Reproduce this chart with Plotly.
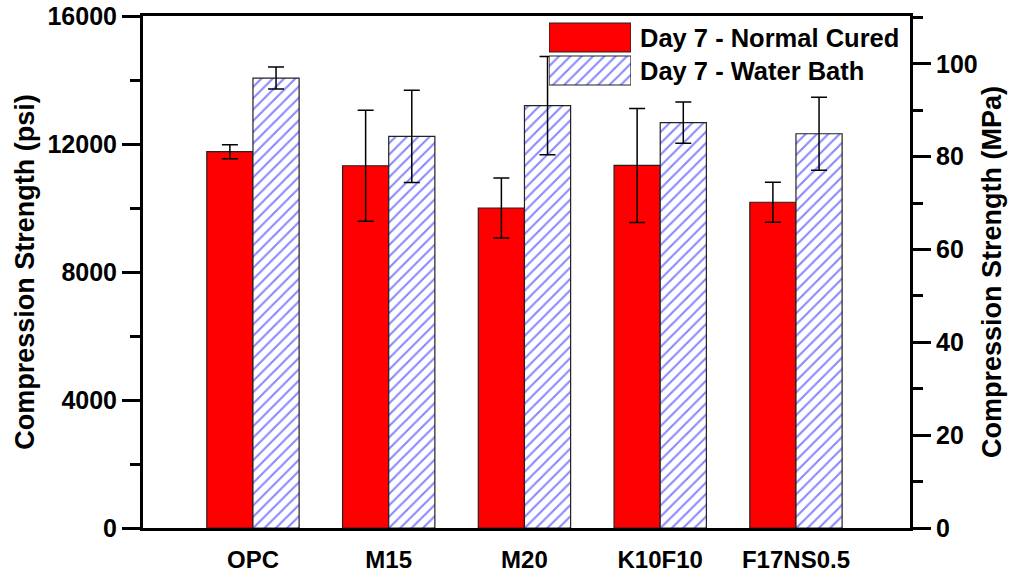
import plotly.graph_objects as go

# ---- data (psi) ----
categories = ["OPC", "M15", "M20", "K10F10", "F17NS0.5"]
normal_cured = [11760, 11320, 10000, 11330, 10180]
normal_cured_err = [220, 1735, 940, 1780, 625]
water_bath = [14060, 12240, 13200, 12670, 12320]
water_bath_err = [345, 1440, 1535, 645, 1140]

series_names = ["Day 7 - Normal Cured", "Day 7 - Water Bath"]
psi_ticks = [0, 4000, 8000, 12000, 16000]
mpa_ticks = [0, 20, 40, 60, 80, 100]
PSI_MAX = 16000
PSI_PER_MPA = 145.038

FONT = "Liberation Sans, Arial, sans-serif"
RED = "#ff0000"
BLUE = "#1010ff"
BAR_W = 0.34
HATCH = dict(shape="/", fgcolor=BLUE, bgcolor="white", size=8, solidity=0.26)

fig = go.Figure()

fig.add_trace(go.Bar(
    x=categories, y=normal_cured, name=series_names[0],
    width=BAR_W, offset=-BAR_W,
    marker=dict(color=RED, line=dict(color="#222", width=1.2)),
    error_y=dict(type="data", array=normal_cured_err, color="black", thickness=1.5, width=8),
    showlegend=False,
))
fig.add_trace(go.Bar(
    x=categories, y=water_bath, name=series_names[1],
    width=BAR_W, offset=0,
    marker=dict(color="white", line=dict(color="#222", width=1.2), pattern=HATCH),
    error_y=dict(type="data", array=water_bath_err, color="black", thickness=1.5, width=8),
    showlegend=False,
))

# invisible trace to activate secondary axis
fig.add_trace(go.Scatter(x=[categories[0]], y=[0], yaxis="y2", mode="markers",
                         marker=dict(opacity=0), showlegend=False, hoverinfo="skip"))

# ---- custom legend swatches (in a small inset axis) ----
legend_rows = [series_names[1], series_names[0]]
fig.add_trace(go.Bar(
    x=[1], y=[series_names[0]], orientation="h", xaxis="x3", yaxis="y3", width=0.88,
    marker=dict(color=RED, line=dict(color="#222", width=1.2)), showlegend=False, hoverinfo="skip"))
fig.add_trace(go.Bar(
    x=[1], y=[series_names[1]], orientation="h", xaxis="x3", yaxis="y3", width=0.88,
    marker=dict(color="white", line=dict(color="#222", width=1.2), pattern=HATCH),
    showlegend=False, hoverinfo="skip"))

W, H = 1018, 579
ml, mr, mt, mb = 143, 108, 16, 51
pw, ph = W - ml - mr, H - mt - mb

def px_x(x):
    return (x - ml) / pw

def px_y(y):
    return (H - mb - y) / ph

tickfont = dict(family=FONT, size=25, color="black", weight="bold")
titlefont = dict(family=FONT, size=27, color="black", weight="bold")

fig.update_layout(
    width=W, height=H,
    margin=dict(l=ml, r=mr, t=mt, b=mb, autoexpand=False),
    paper_bgcolor="white", plot_bgcolor="white",
    barmode="overlay",
    xaxis=dict(
        range=[-0.81, 4.84], showline=True, linecolor="black", linewidth=3,
        mirror=True, ticks="", showgrid=False, zeroline=False, automargin=False,
        tickfont=dict(family=FONT, size=24, color="black", weight="bold"),
        ticklabelstandoff=8,
    ),
    yaxis=dict(
        range=[0, PSI_MAX], tickvals=psi_ticks, tickformat="d", showline=True, linecolor="black",
        linewidth=3, ticks="outside", ticklen=18, tickwidth=2.5, tickcolor="black",
        minor=dict(dtick=2000, ticks="outside", ticklen=10, tickwidth=2.5, tickcolor="black"),
        showgrid=False, zeroline=False, tickfont=tickfont, automargin=False,
        title=dict(text="Compression Strength (psi)", font=titlefont, standoff=6),
    ),
    yaxis2=dict(
        overlaying="y", side="right", range=[0, PSI_MAX / PSI_PER_MPA], tickvals=mpa_ticks,
        showline=True, linecolor="black", linewidth=3, ticks="outside", ticklen=18,
        tickwidth=2.5, tickcolor="black", automargin=False,
        minor=dict(dtick=10, ticks="outside", ticklen=10, tickwidth=2.5, tickcolor="black"),
        showgrid=False, zeroline=False, tickfont=tickfont,
        title=dict(text="Compression Strength (MPa)", font=titlefont, standoff=6),
    ),
    xaxis3=dict(domain=[px_x(549), px_x(631)], range=[0, 1], visible=False, fixedrange=True),
    yaxis3=dict(domain=[px_y(87), px_y(21)], anchor="x3", categoryorder="array",
                categoryarray=legend_rows, range=[-0.5, 1.5], visible=False, fixedrange=True),
    showlegend=False,
)

legend_y = {series_names[0]: 37.5, series_names[1]: 70.5}
for name in series_names:
    fig.add_annotation(
        x=px_x(638), y=px_y(legend_y[name]), xref="paper", yref="paper",
        text=name, showarrow=False, xanchor="left", yanchor="middle",
        font=dict(family=FONT, size=25.5, color="black", weight="bold"),
    )

# remove the default 8px page margin so the figure fills the window exactly
fig.write_html(
    "out.html",
    config={"displayModeBar": False},
    post_script="document.body.style.margin='0';document.body.style.overflow='hidden';",
)
